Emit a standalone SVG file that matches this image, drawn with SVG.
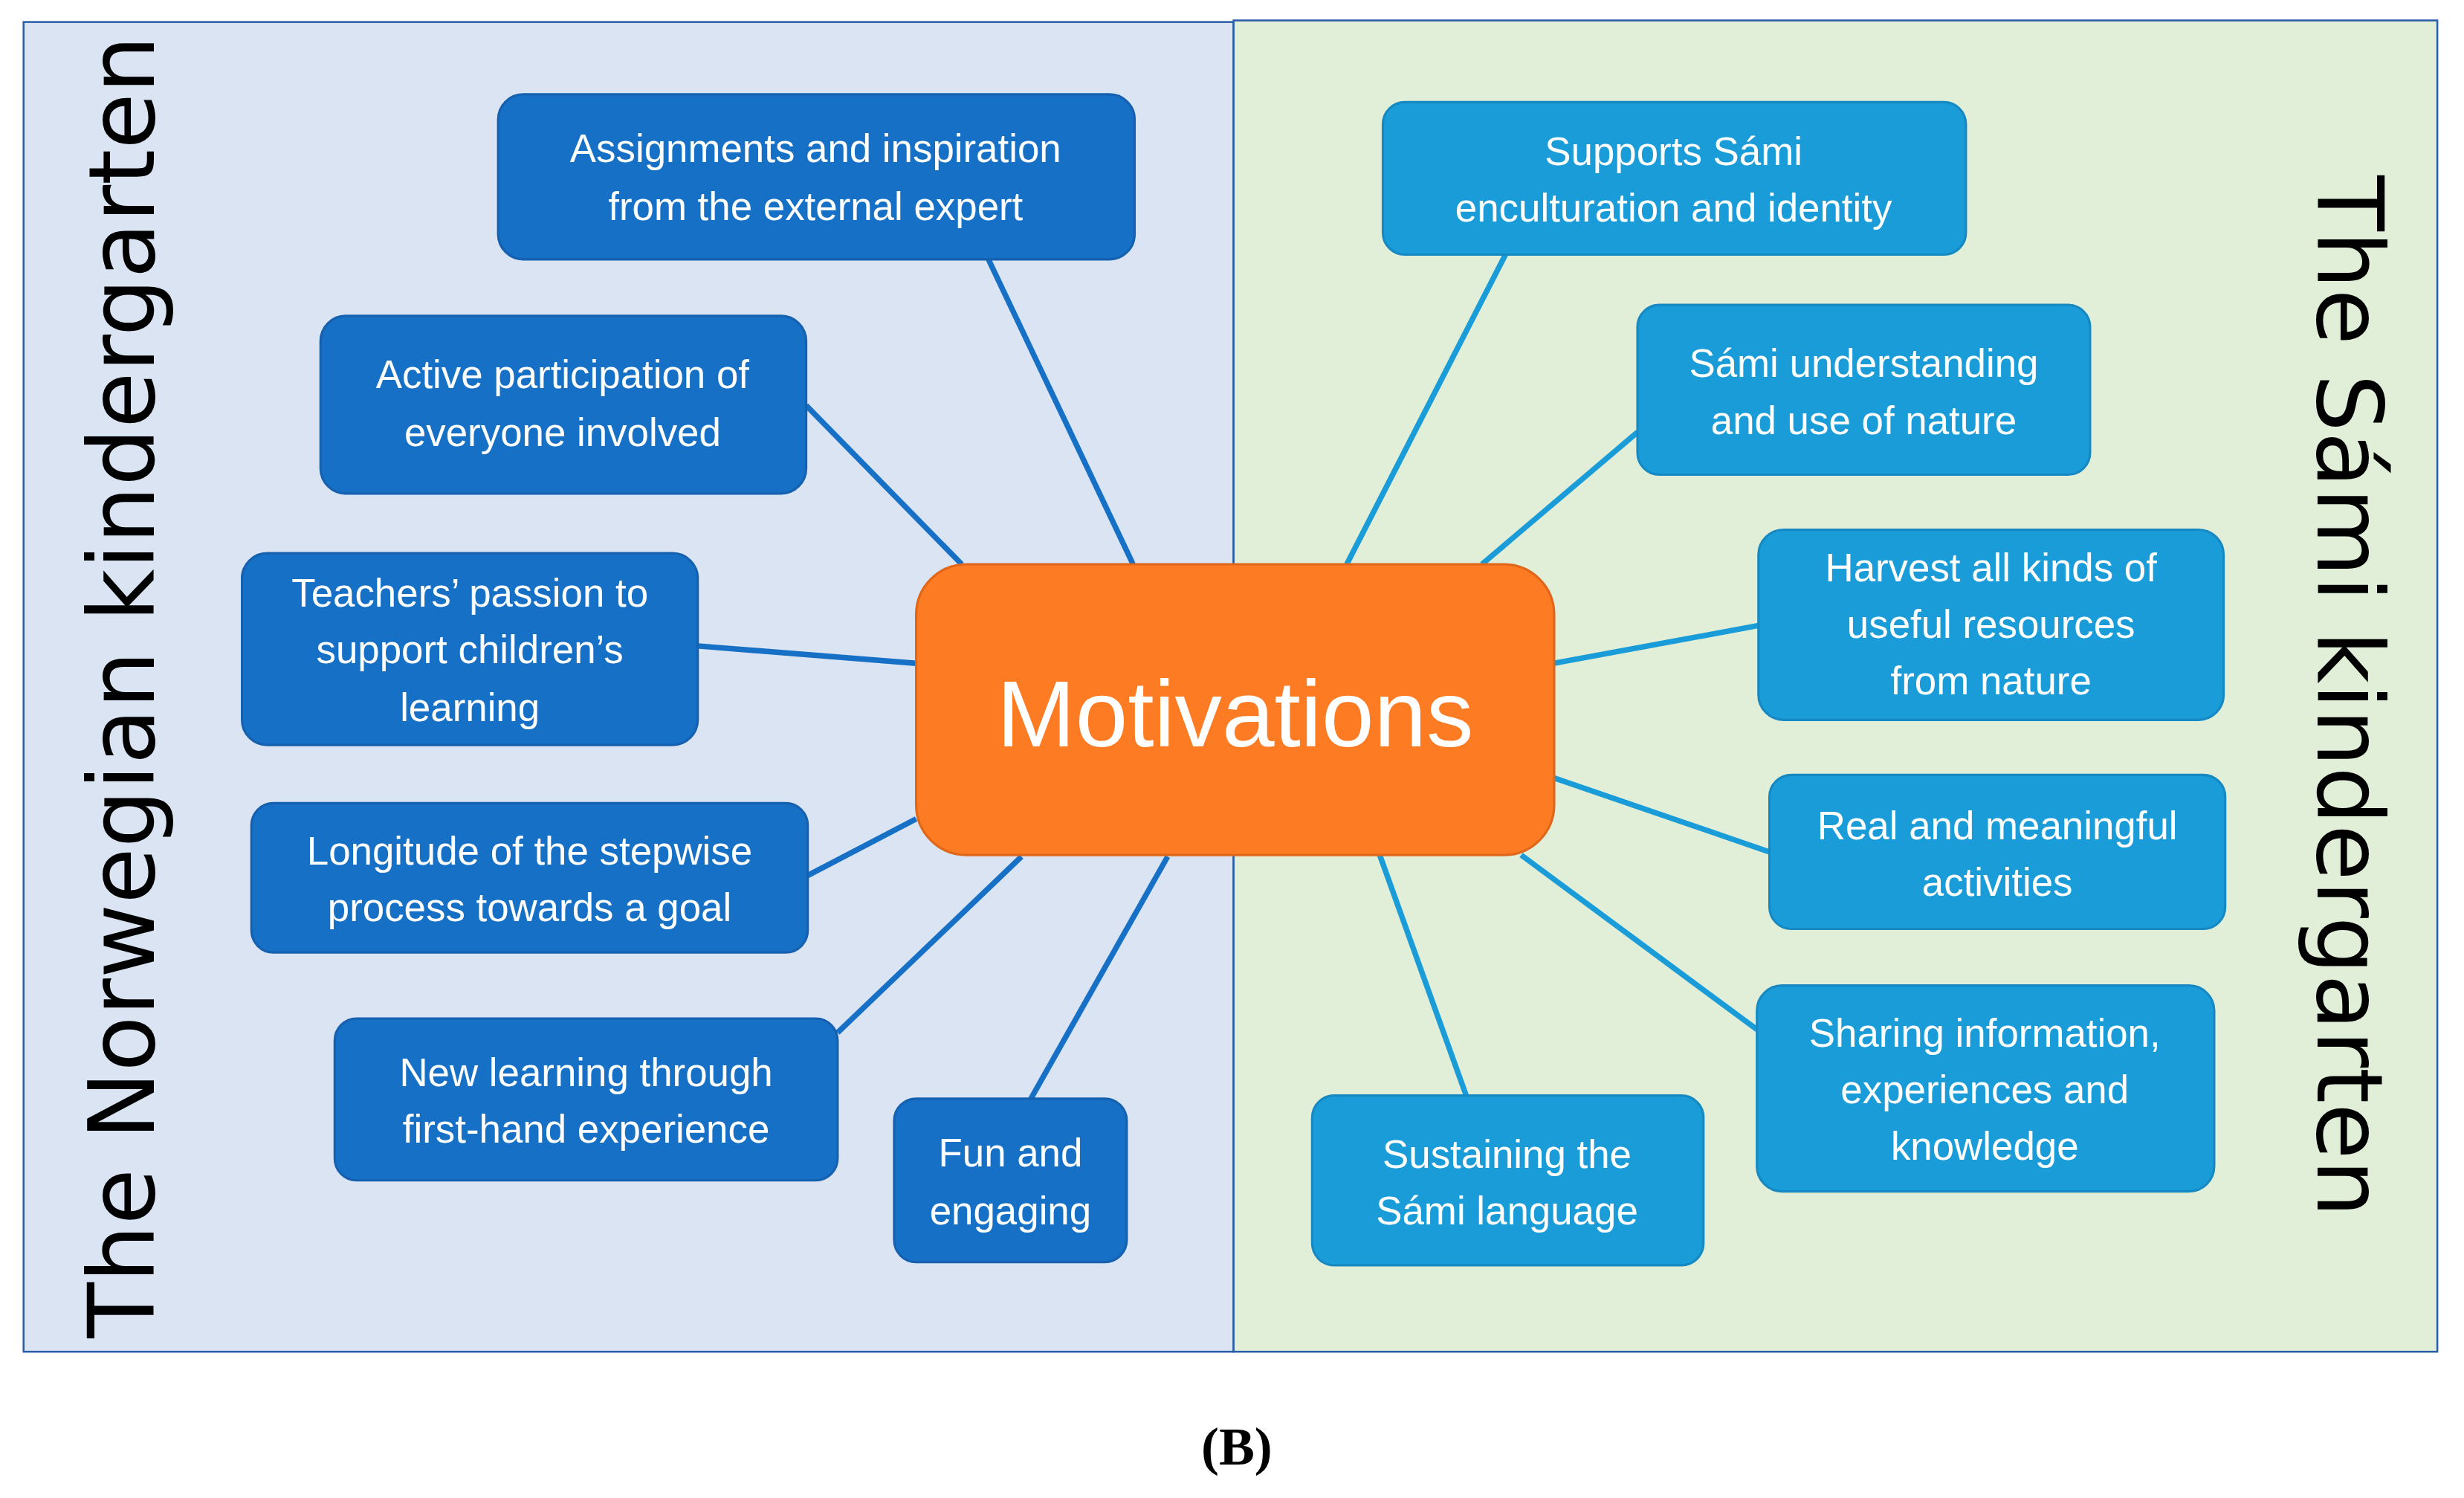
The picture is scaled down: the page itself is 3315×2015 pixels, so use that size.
<svg xmlns="http://www.w3.org/2000/svg" width="3315" height="2015" viewBox="0 0 3315 2015">
<style>
.l{fill:#1670c6;stroke:#1660b0;stroke-width:1.5}
.r{fill:#199cd8;stroke:#1789c2;stroke-width:1.5}
.t{font-family:"Liberation Sans",Arial,sans-serif;font-size:25px;fill:#fff;text-anchor:middle}
.cl{stroke:#1670c6;stroke-width:3.5}
.cr{stroke:#199cd8;stroke-width:3.5}
.side{font-family:"DejaVu Sans",sans-serif;font-size:58px;fill:#000;text-anchor:middle}
</style>
<rect width="3315" height="2015" fill="#fff"/>
<g transform="scale(2.1142)">
<rect x="15" y="14" width="770" height="846" fill="#dae4f3" stroke="#2a5ea8" stroke-width="1.2"/>
<rect x="785" y="13" width="766" height="847" fill="#e1efd9" stroke="#2a5ea8" stroke-width="1.2"/>
<text class="side" transform="translate(98,437) rotate(-90)">The Norwegian kindergarten</text>
<text class="side" transform="translate(1475,443) rotate(90)">The Sámi kindergarten</text>
<g id="connectors">
<line class="cl" x1="629" y1="165" x2="721" y2="359"/>
<line class="cl" x1="513" y1="258" x2="612" y2="359"/>
<line class="cl" x1="444" y1="411" x2="583" y2="422"/>
<line class="cl" x1="514" y1="557" x2="583" y2="521"/>
<line class="cl" x1="533" y1="657" x2="650" y2="545"/>
<line class="cl" x1="656" y1="699" x2="743" y2="545"/>
<line class="cr" x1="958" y1="162" x2="857" y2="359"/>
<line class="cr" x1="1042" y1="275" x2="943" y2="359"/>
<line class="cr" x1="1119" y1="398" x2="989" y2="422"/>
<line class="cr" x1="1126" y1="542" x2="989" y2="495"/>
<line class="cr" x1="1118" y1="655" x2="968" y2="544"/>
<line class="cr" x1="933" y1="697" x2="878" y2="544"/>
</g>
<g id="center"><rect x="583" y="359" width="406" height="185" rx="32" fill="#fd7b22" stroke="#e0661a" stroke-width="1.5"/>
<text x="786" y="475" style="font-family:'Liberation Sans',Arial,sans-serif;font-size:60px;fill:#fff;text-anchor:middle">Motivations</text></g>
<g id="n1"><rect class="l" x="317" y="60" width="405" height="105" rx="16"/><text class="t" x="519" y="103">Assignments and inspiration</text><text class="t" x="519" y="140">from the external expert</text></g>
<g id="n2"><rect class="l" x="204" y="201" width="309" height="113" rx="16"/><text class="t" x="358" y="247">Active participation of</text><text class="t" x="358" y="284">everyone involved</text></g>
<g id="n3"><rect class="l" x="154" y="352" width="290" height="122" rx="16"/><text class="t" x="299" y="386">Teachers’ passion to</text><text class="t" x="299" y="422">support children’s</text><text class="t" x="299" y="459">learning</text></g>
<g id="n4"><rect class="l" x="160" y="511" width="354" height="95" rx="14"/><text class="t" x="337" y="550">Longitude of the stepwise</text><text class="t" x="337" y="586">process towards a goal</text></g>
<g id="n5"><rect class="l" x="213" y="648" width="320" height="103" rx="14"/><text class="t" x="373" y="691">New learning through</text><text class="t" x="373" y="727">first-hand experience</text></g>
<g id="n6"><rect class="l" x="569" y="699" width="148" height="104" rx="14"/><text class="t" x="643" y="742">Fun and</text><text class="t" x="643" y="779">engaging</text></g>
<g id="n7"><rect class="r" x="880" y="65" width="371" height="97" rx="14"/><text class="t" x="1065" y="105">Supports Sámi</text><text class="t" x="1065" y="141">enculturation and identity</text></g>
<g id="n8"><rect class="r" x="1042" y="194" width="288" height="108" rx="14"/><text class="t" x="1186" y="240">Sámi understanding</text><text class="t" x="1186" y="276">and use of nature</text></g>
<g id="n9"><rect class="r" x="1119" y="337" width="296" height="121" rx="16"/><text class="t" x="1267" y="370">Harvest all kinds of</text><text class="t" x="1267" y="406">useful resources</text><text class="t" x="1267" y="442">from nature</text></g>
<g id="n10"><rect class="r" x="1126" y="493" width="290" height="98" rx="14"/><text class="t" x="1271" y="534">Real and meaningful</text><text class="t" x="1271" y="570">activities</text></g>
<g id="n11"><rect class="r" x="1118" y="627" width="291" height="131" rx="16"/><text class="t" x="1263" y="666">Sharing information,</text><text class="t" x="1263" y="702">experiences and</text><text class="t" x="1263" y="738">knowledge</text></g>
<g id="n12"><rect class="r" x="835" y="697" width="249" height="108" rx="14"/><text class="t" x="959" y="743">Sustaining the</text><text class="t" x="959" y="779">Sámi language</text></g>
<text x="787" y="932" style="font-family:'Liberation Serif',serif;font-weight:bold;font-size:34px;text-anchor:middle">(B)</text>
</g>
</svg>
